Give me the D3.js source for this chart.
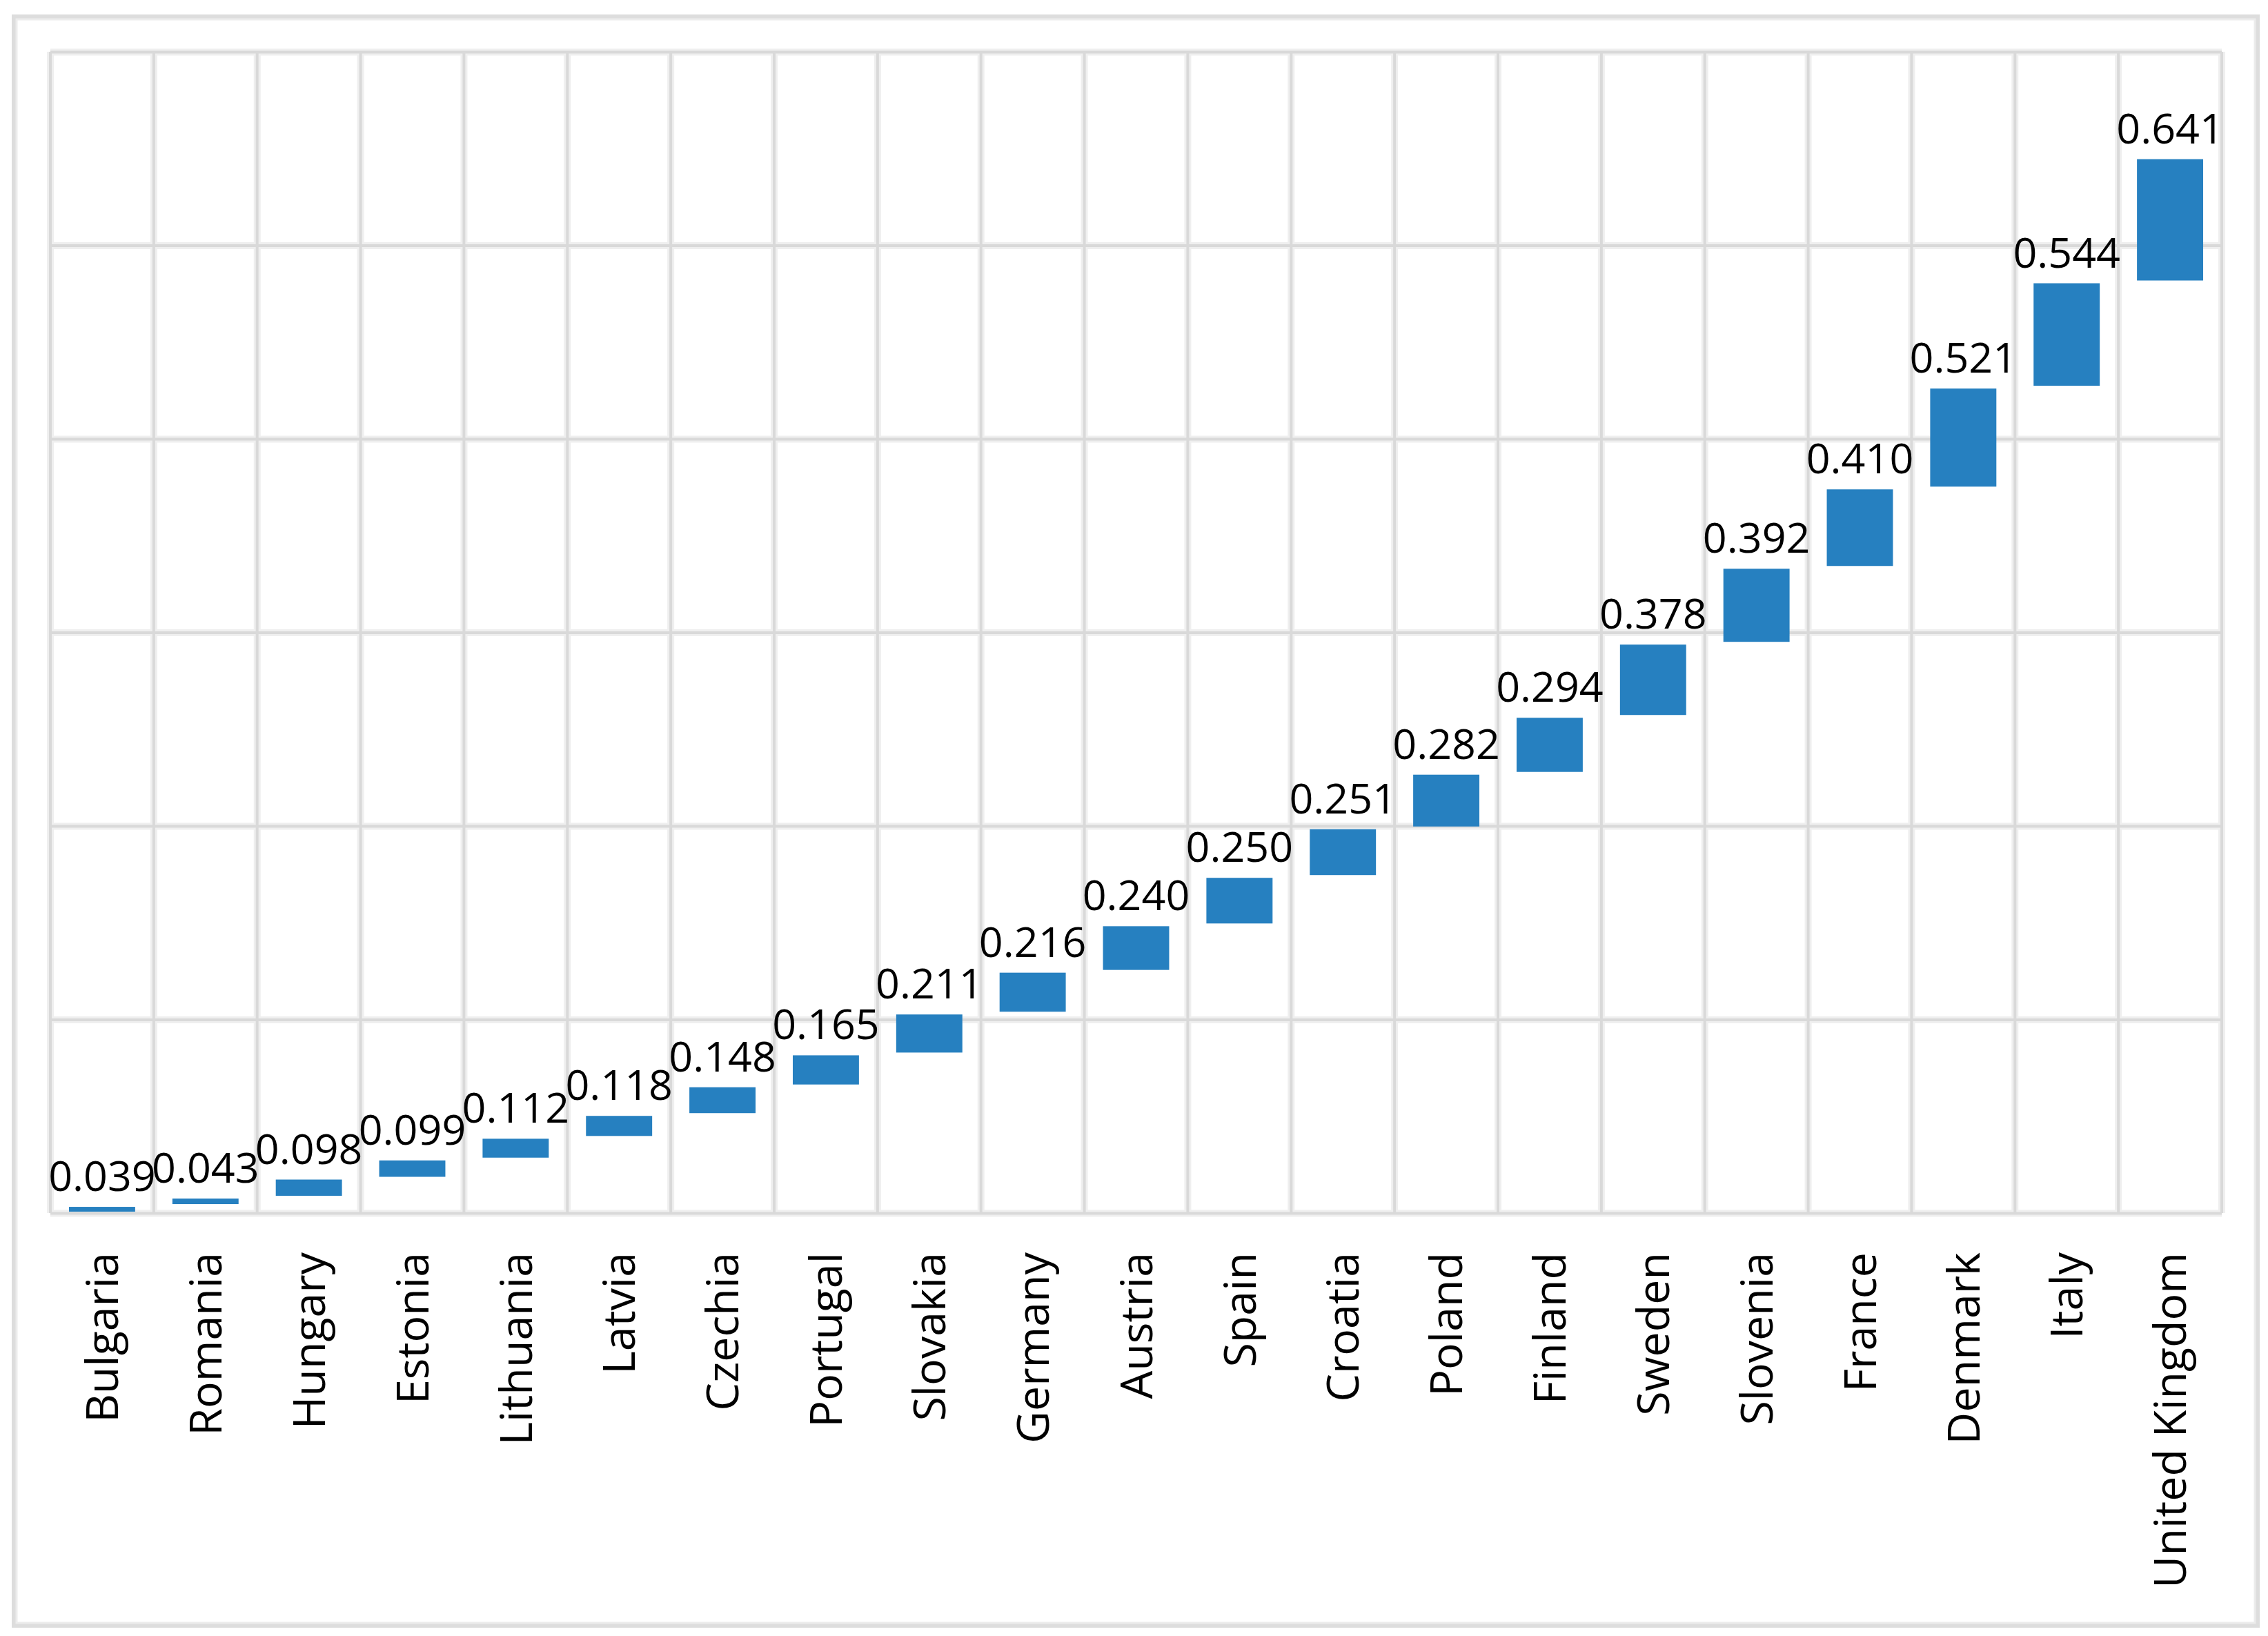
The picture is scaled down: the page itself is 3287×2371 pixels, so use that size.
<!DOCTYPE html>
<html>
<head>
<meta charset="utf-8">
<script src="https://cdn.jsdelivr.net/npm/d3@7"></script>
<style>
  html, body { margin: 0; padding: 0; background: #fff; }
  svg { display: block; }
</style>
</head>
<body>
<script>
const countries = ["Bulgaria","Romania","Hungary","Estonia","Lithuania","Latvia","Czechia","Portugal","Slovakia","Germany","Austria","Spain","Croatia","Poland","Finland","Sweden","Slovenia","France","Denmark","Italy","United Kingdom"];
const values = [0.039,0.043,0.098,0.099,0.112,0.118,0.148,0.165,0.211,0.216,0.240,0.250,0.251,0.282,0.294,0.378,0.392,0.410,0.521,0.544,0.641];
const yTicks = [0,1,2,3,4,5,6];

const W = 3287, H = 2371;
const plot = {left: 73, right: 3220, top: 75, bottom: 1758};

const svg = d3.select("body").append("svg").attr("width", W).attr("height", H);

// outer frame
svg.append("rect").attr("x", 21).attr("y", 25).attr("width", 3250).attr("height", 2330)
  .attr("fill", "none").attr("stroke", "#dddddd").attr("stroke-width", 8);
svg.append("rect").attr("x", 24).attr("y", 28).attr("width", 3244).attr("height", 2324)
  .attr("fill", "none").attr("stroke", "#ececec").attr("stroke-width", 3);

const cum = Array.from(d3.cumsum(values));
const starts = cum.map((c, i) => c - values[i]);

const x = d3.scaleBand().domain(countries).range([plot.left, plot.right]).paddingInner(0).paddingOuter(0);
const y = d3.scaleLinear().domain([0, d3.max(yTicks)]).range([plot.bottom, plot.top]);

function drawGrid(width, color) {
  const gh = svg.append("g").attr("transform", `translate(${plot.left},0)`)
    .call(d3.axisLeft(y).tickValues(yTicks).tickSize(-(plot.right - plot.left)).tickFormat(""));
  gh.select(".domain").remove();
  gh.selectAll("line").attr("stroke", color).attr("stroke-width", width);
  const bounds = countries.map(c => x(c)).concat([plot.right]);
  svg.append("g").selectAll("line").data(bounds).join("line")
    .attr("x1", d => d).attr("x2", d => d)
    .attr("y1", plot.top).attr("y2", plot.bottom)
    .attr("stroke", color).attr("stroke-width", width);
}
drawGrid(10, "#efefef");
drawGrid(4, "#d9d9d9");

// bars (waterfall: each from running start to running total)
const barW = x.bandwidth() * 0.64;
const gap = 2;
svg.append("g").selectAll("rect").data(countries).join("rect")
  .attr("x", (d, i) => x(d) + (x.bandwidth() - barW) / 2)
  .attr("y", (d, i) => y(cum[i]) + gap)
  .attr("width", barW)
  .attr("height", (d, i) => Math.max(1.5, y(starts[i]) - y(cum[i]) - 2 * gap))
  .attr("fill", "#2680c0");

// value labels
svg.append("g").selectAll("text").data(countries).join("text")
  .attr("x", d => x(d) + x.bandwidth() / 2)
  .attr("y", (d, i) => y(cum[i]) - 21)
  .attr("text-anchor", "middle")
  .attr("font-family", "'Open Sans', sans-serif")
  .attr("font-size", 61)
  .attr("fill", "#000")
  .text((d, i) => values[i].toFixed(3));

// category labels (rotated)
svg.append("g").selectAll("text").data(countries).join("text")
  .attr("transform", d => `translate(${x(d) + x.bandwidth() / 2},${plot.bottom + 57}) rotate(-90)`)
  .attr("text-anchor", "end")
  .attr("dy", "0.36em")
  .attr("font-family", "'Open Sans', sans-serif")
  .attr("font-size", 64.5)
  .attr("fill", "#000")
  .text(d => d);
</script>
</body>
</html>
